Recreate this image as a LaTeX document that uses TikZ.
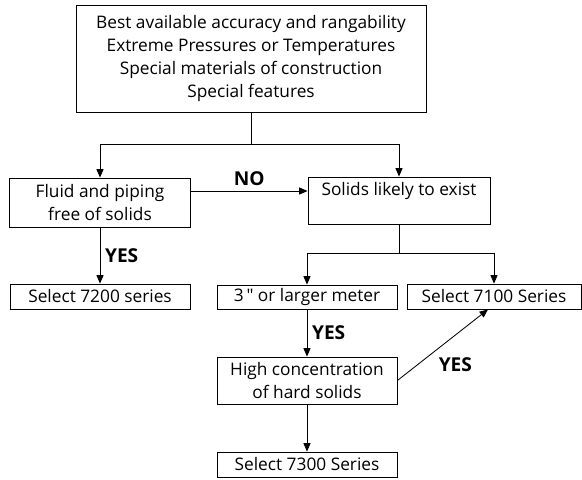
\documentclass[tikz,border=0pt]{standalone}
\usepackage{fontspec}
\setmainfont{Open Sans}[Ligatures=TeXOff]
\usetikzlibrary{arrows.meta}

\begin{document}
\begin{tikzpicture}[auto, >={Triangle[width=5pt,length=6pt]}, line width=0.6pt,
  font=\fontsize{12.3}{16.4}\selectfont,
  box/.style={draw, align=center, inner sep=0pt},
  answer/.style={font=\fontsize{13.6}{16.4}\selectfont\bfseries}]
\useasboundingbox (0,0) rectangle (14.55,-11.975);
\node [box, minimum width=8.75cm, minimum height=2.675cm] (CRIT) at (6.275,-1.4625)
  {Best available accuracy and rangability\\Extreme Pressures or Temperatures\\Special materials of construction\\Special features};
\node [box, minimum width=4.525cm, minimum height=1.225cm] (FLUID) at (2.5,-5.0625) {Fluid and piping\\free of solids};
\node [box, minimum width=4.55cm, minimum height=1.175cm] (SOLIDS) at (9.975,-5.0125) {Solids likely to exist\\ \mbox{}};
\node [box, minimum width=4.5cm, minimum height=0.625cm] (S7200) at (2.5,-7.4125) {Select 7200 series};
\node [box, minimum width=4.5cm, minimum height=0.6cm] (METER) at (7.675,-7.425) {3\," or larger meter};
\node [box, minimum width=4.35cm, minimum height=0.625cm] (S7100) at (12.35,-7.4125) {Select 7100 Series};
\node [box, minimum width=4.5cm, minimum height=1.175cm] (HARD) at (7.675,-9.5125) {High concentration\\of hard solids};
\node [box, minimum width=4.5cm, minimum height=0.625cm] (S7300) at (7.675,-11.6125) {Select 7300 Series};
\coordinate (SPLIT) at (6.275,-3.6);
\coordinate (SPLIT2) at (9.975,-6.325);
\draw (CRIT) to (SPLIT);
\draw [->] (SPLIT) -| (FLUID);
\draw [->] (SPLIT) -| (SOLIDS);
\draw [->] ([yshift=0.2875cm]FLUID.east) to node [answer] {NO} ([yshift=0.2875cm]FLUID.east -| SOLIDS.west);
\draw [->] (FLUID) to node [answer] {YES} (S7200);
\draw (SOLIDS) to (SPLIT2);
\draw [->] (SPLIT2) -| (METER);
\draw [->] (SPLIT2) -| (S7100);
\draw [->] (METER) to node [answer] {YES} (HARD);
\draw [->] (HARD) to (S7300);
\draw [->] (HARD.east) to node [answer, swap, pos=0.4] {YES} ([xshift=-0.15cm]S7100.south);
\end{tikzpicture}
\end{document}
